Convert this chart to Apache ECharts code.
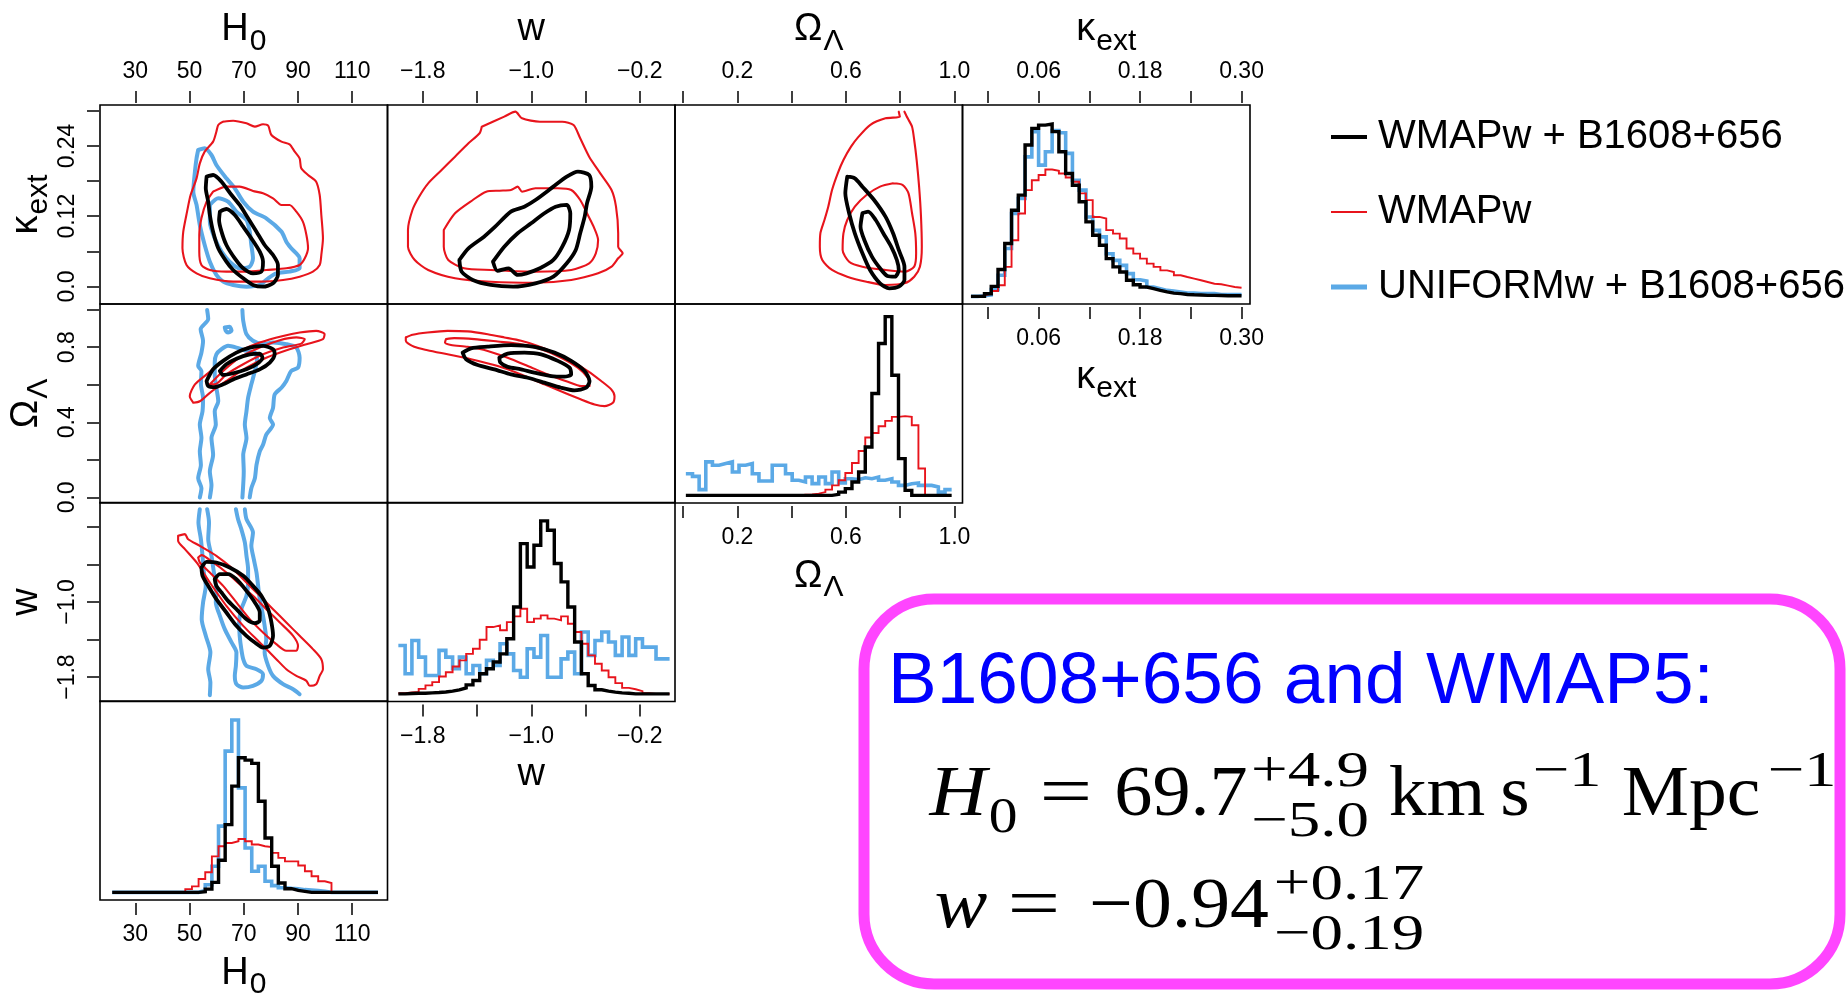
<!DOCTYPE html>
<html><head><meta charset="utf-8">
<script src="https://cdn.jsdelivr.net/npm/echarts@6/dist/echarts.min.js"></script>
<style>html,body{margin:0;padding:0;background:#fff}#c{width:1848px;height:996px}</style>
</head><body><div id="c"></div>
<script>
// ---------------- DATA ----------------
const seriesNames = ['WMAPw + B1608+656', 'WMAPw', 'UNIFORMw + B1608+656'];

// tick values and labelled ticks
const h0Ticks = [30, 50, 70, 90, 110];
const h0Labels = [30, 50, 70, 90, 110];
const wTicks = [-1.8, -1.4, -1.0, -0.6, -0.2];
const wLabels = [-1.8, -1.0, -0.2];
const wLeftLabels = [-1.8, -1.0];
const omlTicks = [0, 0.2, 0.4, 0.6, 0.8, 1.0];
const omlLabels = [0.2, 0.6, 1.0];
const omlLeftLabels = [0, 0.4, 0.8];
const kextTicks = [0, 0.06, 0.12, 0.18, 0.24, 0.30];
const kextLabels = [0.06, 0.18, 0.30];
const kextLeftLabels = [0, 0.12, 0.24];

// ---- contours (H0, kext) ----
const hkRedOuter = [[62.4,0.2815],[66.1,0.2832],[71.0,0.2787],[74.1,0.2730],[77.1,0.2770],[79.0,0.2747],[80.2,0.2587],[83.9,0.2474],[86.9,0.2428],[88.8,0.2303],[90.6,0.2189],[91.2,0.2018],[93.7,0.1904],[96.7,0.1790],[98.0,0.1562],[98.6,0.1221],[99.2,0.0822],[98.6,0.0537],[98.0,0.0367],[95.5,0.0253],[90.6,0.0167],[84.5,0.0110],[75.9,0.0082],[66.1,0.0082],[57.5,0.0139],[52.6,0.0224],[48.9,0.0367],[47.4,0.0651],[47.7,0.0936],[49.1,0.1278],[50.4,0.1562],[52.6,0.1847],[53.8,0.2103],[55.6,0.2303],[58.7,0.2474],[59.9,0.2644],[60.6,0.2758]];
const hkRedInner = [[58.7,0.1619],[63.6,0.1705],[68.5,0.1705],[73.4,0.1631],[77.1,0.1591],[80.8,0.1505],[83.9,0.1392],[86.9,0.1392],[89.4,0.1278],[91.8,0.1107],[93.1,0.0879],[93.7,0.0651],[92.5,0.0480],[90.6,0.0367],[85.7,0.0310],[78.3,0.0281],[71.0,0.0253],[63.6,0.0253],[57.5,0.0281],[54.4,0.0367],[53.6,0.0594],[53.6,0.0879],[54.4,0.1164],[56.3,0.1448]];
const hkBlueOuter = [[53.2,0.2331],[55.6,0.2360],[58.1,0.2246],[59.9,0.2075],[63.6,0.1847],[66.7,0.1676],[69.8,0.1448],[73.4,0.1278],[78.3,0.1164],[83.9,0.0936],[85.7,0.0765],[87.5,0.0651],[90.6,0.0480],[90.6,0.0310],[86.9,0.0253],[82.0,0.0224],[79.0,0.0139],[75.9,0.0025],[71.0,-0.0004],[66.1,0.0025],[62.4,0.0082],[59.9,0.0196],[57.5,0.0423],[55.6,0.0708],[53.8,0.1050],[52.6,0.1392],[51.4,0.1619],[52.0,0.1961],[52.6,0.2189]];
const hkBlueInner = [[57.5,0.1392],[60.6,0.1505],[64.2,0.1448],[67.3,0.1278],[71.0,0.1135],[72.2,0.0936],[72.8,0.0708],[73.4,0.0480],[72.2,0.0338],[68.5,0.0310],[64.8,0.0423],[61.8,0.0594],[59.3,0.0822],[57.5,0.1107]];
const hkBlackOuter = [[56.3,0.1876],[58.7,0.1904],[61.8,0.1790],[65.5,0.1562],[68.5,0.1392],[71.6,0.1164],[74.7,0.0936],[77.7,0.0708],[80.8,0.0537],[82.6,0.0367],[82.6,0.0196],[80.8,0.0053],[77.1,-0.0004],[73.4,0.0025],[69.8,0.0139],[66.1,0.0281],[63.6,0.0423],[60.6,0.0651],[58.7,0.0936],[57.5,0.1221],[56.9,0.1448],[56.0,0.1676]];
const hkBlackInner = [[61.2,0.1278],[63.6,0.1323],[66.7,0.1221],[69.8,0.1021],[72.8,0.0822],[75.9,0.0594],[77.1,0.0423],[76.5,0.0253],[73.4,0.0224],[69.8,0.0310],[66.7,0.0480],[63.6,0.0708],[61.8,0.0936],[60.9,0.1135]];

// ---- contours (w, kext) ----
const wkRedOuter = [[-1.365,0.2729],[-1.199,0.2901],[-1.117,0.2986],[-1.068,0.2872],[-0.936,0.2815],[-0.771,0.2815],[-0.688,0.2758],[-0.639,0.2531],[-0.573,0.2217],[-0.491,0.1933],[-0.408,0.1648],[-0.375,0.1363],[-0.359,0.0908],[-0.359,0.0679],[-0.326,0.0566],[-0.359,0.0481],[-0.408,0.0338],[-0.507,0.0224],[-0.705,0.0110],[-0.969,0.0064],[-1.298,0.0081],[-1.562,0.0139],[-1.760,0.0281],[-1.859,0.0452],[-1.909,0.0679],[-1.909,0.0964],[-1.876,0.1306],[-1.827,0.1533],[-1.760,0.1762],[-1.661,0.1989],[-1.562,0.2217],[-1.463,0.2446],[-1.381,0.2617]];
const wkRedInner = [[-1.645,0.0964],[-1.562,0.1250],[-1.431,0.1477],[-1.332,0.1619],[-1.233,0.1636],[-1.150,0.1648],[-1.100,0.1705],[-1.068,0.1619],[-0.969,0.1677],[-0.804,0.1677],[-0.705,0.1648],[-0.639,0.1477],[-0.589,0.1250],[-0.540,0.1021],[-0.507,0.0794],[-0.524,0.0566],[-0.573,0.0396],[-0.705,0.0281],[-0.969,0.0252],[-1.298,0.0281],[-1.496,0.0310],[-1.612,0.0452],[-1.645,0.0679]];
const wkBlackOuter = [[-1.530,0.0452],[-1.463,0.0651],[-1.348,0.0850],[-1.266,0.1021],[-1.150,0.1278],[-1.051,0.1363],[-0.969,0.1477],[-0.837,0.1705],[-0.738,0.1875],[-0.656,0.1961],[-0.573,0.1904],[-0.557,0.1705],[-0.589,0.1420],[-0.606,0.1192],[-0.639,0.0908],[-0.672,0.0623],[-0.738,0.0396],[-0.837,0.0167],[-0.969,0.0053],[-1.134,-0.0004],[-1.298,0.0025],[-1.431,0.0110],[-1.513,0.0252]];
const wkBlackInner = [[-1.282,0.0423],[-1.199,0.0679],[-1.100,0.0908],[-1.001,0.1079],[-0.903,0.1250],[-0.820,0.1363],[-0.738,0.1392],[-0.712,0.1250],[-0.721,0.0964],[-0.771,0.0679],[-0.837,0.0452],[-0.936,0.0310],[-1.035,0.0224],[-1.100,0.0196],[-1.167,0.0310],[-1.249,0.0267]];

// ---- contours (OmegaL, kext) ----
const okRedOuter = [[0.795,0.2986],[0.799,0.2901],[0.746,0.2872],[0.689,0.2758],[0.647,0.2559],[0.619,0.2388],[0.591,0.2160],[0.570,0.1933],[0.549,0.1648],[0.535,0.1363],[0.521,0.1135],[0.506,0.0908],[0.504,0.0679],[0.513,0.0452],[0.549,0.0281],[0.605,0.0167],[0.676,0.0081],[0.746,0.0025],[0.816,0.0053],[0.852,0.0167],[0.873,0.0338],[0.880,0.0679],[0.877,0.1192],[0.870,0.1705],[0.861,0.2160],[0.852,0.2502],[0.844,0.2729],[0.828,0.2872],[0.816,0.2986]];
const okRedInner = [[0.774,0.1762],[0.810,0.1733],[0.831,0.1591],[0.844,0.1250],[0.856,0.0908],[0.859,0.0566],[0.852,0.0338],[0.816,0.0252],[0.746,0.0281],[0.661,0.0338],[0.612,0.0423],[0.588,0.0623],[0.591,0.0908],[0.605,0.1135],[0.633,0.1363],[0.676,0.1562],[0.726,0.1705]];
const okBlackOuter = [[0.605,0.1875],[0.633,0.1847],[0.661,0.1705],[0.704,0.1477],[0.746,0.1192],[0.774,0.0908],[0.795,0.0623],[0.816,0.0338],[0.816,0.0110],[0.795,-0.0004],[0.760,-0.0032],[0.726,0.0053],[0.689,0.0281],[0.661,0.0566],[0.633,0.0908],[0.612,0.1250],[0.598,0.1591]];
const okBlackInner = [[0.661,0.1250],[0.682,0.1278],[0.710,0.1135],[0.738,0.0908],[0.767,0.0679],[0.788,0.0452],[0.795,0.0281],[0.781,0.0167],[0.753,0.0178],[0.726,0.0310],[0.696,0.0509],[0.668,0.0794],[0.654,0.1021]];

// ---- contours (H0, OmegaL) ----
const hoBlackOuter = [[56.3,0.620],[58.7,0.682],[62.4,0.727],[67.3,0.771],[72.2,0.798],[77.1,0.807],[80.8,0.789],[81.4,0.762],[79.6,0.718],[75.9,0.682],[71.0,0.655],[66.1,0.628],[62.4,0.602],[59.3,0.587],[56.9,0.593]];
const hoBlackInner = [[61.2,0.673],[63.6,0.709],[67.3,0.739],[72.2,0.762],[75.9,0.766],[76.9,0.744],[74.7,0.709],[71.0,0.682],[66.1,0.661],[62.4,0.652]];
const hoRedOuter = [[51.4,0.504],[50.1,0.539],[52.0,0.602],[56.3,0.655],[62.4,0.727],[68.5,0.780],[75.9,0.825],[84.5,0.860],[90.6,0.878],[96.7,0.887],[99.8,0.869],[99.2,0.843],[93.1,0.816],[86.9,0.789],[78.3,0.744],[71.0,0.691],[63.6,0.620],[57.5,0.557],[53.8,0.512]];
const hoRedInner = [[57.5,0.602],[62.4,0.673],[68.5,0.744],[75.9,0.798],[83.3,0.837],[89.4,0.852],[92.5,0.843],[91.2,0.819],[84.5,0.798],[77.1,0.762],[69.8,0.709],[63.6,0.655],[59.3,0.602]];
const hoBlueOuterLeft = [[53.8,-0.001],[54.4,0.049],[53.2,0.102],[54.2,0.173],[53.8,0.245],[54.4,0.316],[53.8,0.388],[54.8,0.459],[55.0,0.530],[54.2,0.602],[54.4,0.673],[53.2,0.700],[54.4,0.771],[55.0,0.834],[54.1,0.896],[56.9,0.950],[56.5,0.998]];
const hoBlueOuterRight = [[69.5,0.998],[69.8,0.941],[71.0,0.869],[73.4,0.834],[77.1,0.816],[80.8,0.825],[85.7,0.816],[89.4,0.798],[90.6,0.744],[90.0,0.691],[87.5,0.673],[85.7,0.620],[83.9,0.584],[81.4,0.548],[80.8,0.477],[79.6,0.423],[80.8,0.388],[78.3,0.334],[77.1,0.280],[75.9,0.245],[74.7,0.173],[74.1,0.102],[72.8,0.049],[72.2,-0.001]];
const hoBlueInner = [[57.5,-0.001],[58.1,0.066],[57.5,0.138],[58.7,0.227],[58.1,0.316],[59.7,0.388],[59.3,0.459],[60.6,0.512],[59.9,0.584],[59.3,0.655],[59.3,0.718],[59.9,0.762],[61.8,0.789],[64.2,0.807],[67.3,0.798],[71.0,0.780],[74.1,0.771],[74.9,0.736],[74.1,0.673],[72.8,0.602],[71.6,0.530],[71.0,0.459],[70.4,0.388],[71.0,0.316],[69.8,0.227],[70.0,0.138],[69.5,-0.001]];
const hoBlueIsland = [[63.0,0.905],[64.8,0.909],[65.5,0.887],[64.2,0.878],[63.4,0.887]];

// ---- contours (H0, w) ----
const hwRedOuter = [[45.8,-0.295],[48.3,-0.277],[49.5,-0.331],[53.8,-0.402],[59.9,-0.508],[66.1,-0.650],[71.0,-0.792],[75.9,-0.934],[80.8,-1.076],[85.7,-1.218],[90.6,-1.360],[95.5,-1.502],[98.6,-1.609],[99.2,-1.716],[98.0,-1.787],[96.7,-1.875],[94.3,-1.893],[93.1,-1.840],[89.4,-1.787],[85.7,-1.716],[82.0,-1.609],[75.9,-1.431],[69.8,-1.254],[63.6,-1.041],[57.5,-0.792],[52.6,-0.579],[48.3,-0.437],[45.8,-0.348]];
const hwRedInner = [[53.2,-0.526],[54.4,-0.501],[58.7,-0.579],[63.6,-0.686],[68.5,-0.810],[73.4,-0.934],[78.3,-1.076],[83.3,-1.218],[88.2,-1.360],[90.0,-1.467],[89.4,-1.520],[85.7,-1.520],[82.0,-1.449],[77.1,-1.325],[72.2,-1.183],[67.3,-1.005],[62.4,-0.828],[57.5,-0.686],[53.8,-0.579]];
const hwBlackOuter = [[54.4,-0.632],[56.3,-0.572],[59.9,-0.579],[64.8,-0.632],[69.8,-0.721],[73.4,-0.828],[76.5,-0.934],[79.0,-1.076],[80.2,-1.218],[80.8,-1.360],[79.6,-1.467],[77.1,-1.485],[74.1,-1.431],[71.0,-1.360],[67.3,-1.254],[63.6,-1.112],[59.9,-0.970],[56.9,-0.828],[54.8,-0.721]];
const hwBlackInner = [[59.3,-0.757],[61.2,-0.703],[64.2,-0.703],[67.3,-0.757],[71.0,-0.881],[74.1,-1.005],[75.9,-1.112],[75.9,-1.201],[74.1,-1.225],[71.0,-1.183],[67.3,-1.076],[64.2,-0.988],[61.8,-0.899],[59.9,-0.828]];
const hwBlueOuterLeft = [[53.8,-0.011],[53.3,-0.153],[54.2,-0.331],[54.8,-0.508],[55.3,-0.686],[56.0,-0.828],[55.0,-1.005],[54.5,-1.183],[56.0,-1.360],[57.7,-1.538],[56.9,-1.716],[57.7,-1.858],[57.5,-1.993]];
const hwBlueOuterRight = [[70.4,-0.011],[71.0,-0.118],[73.4,-0.260],[72.8,-0.402],[73.7,-0.544],[74.7,-0.686],[75.3,-0.828],[75.9,-0.970],[76.9,-1.112],[77.7,-1.254],[78.3,-1.396],[77.7,-1.538],[79.0,-1.680],[80.8,-1.787],[84.5,-1.875],[88.2,-1.929],[90.6,-1.982]];
const hwBlueInner = [[56.5,-0.011],[57.2,-0.153],[56.9,-0.331],[58.1,-0.508],[59.0,-0.686],[59.9,-0.863],[59.7,-1.005],[61.2,-1.147],[63.0,-1.289],[65.5,-1.431],[67.3,-1.538],[67.1,-1.680],[66.7,-1.787],[67.3,-1.875],[69.8,-1.911],[73.4,-1.893],[76.5,-1.840],[77.1,-1.769],[74.7,-1.716],[71.0,-1.680],[69.8,-1.609],[69.1,-1.502],[68.5,-1.360],[68.3,-1.218],[69.1,-1.076],[71.0,-0.934],[71.6,-0.792],[71.6,-0.650],[71.0,-0.508],[70.4,-0.366],[69.1,-0.224],[67.9,-0.118],[67.1,-0.011]];

// ---- contours (w, OmegaL) ----
const woRedOuter = [[-1.925,0.852],[-1.875,0.866],[-1.765,0.878],[-1.617,0.887],[-1.469,0.884],[-1.321,0.869],[-1.198,0.852],[-1.075,0.834],[-0.952,0.807],[-0.829,0.771],[-0.706,0.727],[-0.583,0.673],[-0.484,0.620],[-0.410,0.575],[-0.386,0.539],[-0.398,0.504],[-0.460,0.486],[-0.533,0.495],[-0.632,0.521],[-0.755,0.557],[-0.903,0.602],[-1.075,0.655],[-1.247,0.700],[-1.444,0.736],[-1.617,0.762],[-1.765,0.784],[-1.863,0.802],[-1.925,0.834]];
const woRedInner = [[-1.629,0.843],[-1.568,0.848],[-1.420,0.843],[-1.247,0.830],[-1.075,0.816],[-0.927,0.789],[-0.780,0.744],[-0.657,0.691],[-0.583,0.637],[-0.570,0.593],[-0.632,0.593],[-0.730,0.616],[-0.878,0.655],[-1.026,0.700],[-1.174,0.744],[-1.321,0.780],[-1.469,0.802],[-1.592,0.812],[-1.636,0.825]];
const woBlackOuter = [[-1.506,0.771],[-1.444,0.794],[-1.321,0.803],[-1.149,0.811],[-0.977,0.802],[-0.829,0.771],[-0.706,0.727],[-0.607,0.673],[-0.570,0.620],[-0.595,0.584],[-0.681,0.570],[-0.780,0.584],[-0.903,0.611],[-1.026,0.637],[-1.149,0.655],[-1.272,0.682],[-1.395,0.705],[-1.481,0.736]];
const woBlackInner = [[-1.235,0.744],[-1.174,0.766],[-1.050,0.771],[-0.927,0.762],[-0.804,0.727],[-0.718,0.691],[-0.706,0.655],[-0.755,0.643],[-0.853,0.646],[-0.977,0.664],[-1.075,0.682],[-1.174,0.695],[-1.228,0.718]];

// ---- marginal histograms (relative density per bin) ----
const kextBinStart = -0.02, kextBinWidth = 0.008;
const kextHistBlack = [0,0,.014,.052,.140,.276,.450,.529,.791,.878,.895,.901,.861,.756,.642,.581,.494,.389,.319,.267,.197,.154,.127,.084,.061,.049,.040,.031,.023,.017,.014,.010,.008,.007,.005,.005,.004,.003,.003,.003];
const kextHistRed = [0,.005,.014,.028,.058,.154,.293,.433,.555,.607,.634,.663,.656,.642,.621,.599,.538,.503,.415,.407,.346,.328,.302,.250,.223,.197,.171,.154,.136,.127,.110,.101,.093,.084,.075,.066,.063,.056,.049,.045];
const kextHistBlue = [0,.003,.007,.035,.110,.250,.433,.511,.729,.860,.686,.756,.866,.855,.747,.607,.555,.415,.345,.311,.223,.188,.162,.119,.087,.080,.049,.040,.031,.028,.023,.017,.017,.014,.014,.014,.010,.010,.010,.010];

const omlBinStart = 0.01, omlBinWidth = 0.0245;
const omlHistBlack = [0,0,0,0,0,0,0,0,0,0,0,0,0,0,0,0,0,0,0,0,0,0,.005,.017,.035,.070,.122,.253,.532,.794,.934,.628,.192,.026,0,0,0,0,0,0];
const omlHistRed = [null,null,null,null,null,null,null,null,null,null,null,null,null,null,null,null,null,.003,.005,.009,.017,.030,.052,.079,.117,.169,.232,.302,.326,.361,.389,.410,.414,.410,.366,.140,null,null,null,null];
const omlHistBlue = [.113,.099,.030,.175,.157,.166,.175,.122,.157,.166,.113,.075,.075,.157,.157,.113,.079,.070,.096,.061,.096,.061,.122,.065,.087,.082,.092,.087,.096,.079,.087,.070,.052,.061,.065,.052,.052,.044,.017,.030];

const wBinStart = -1.98, wBinWidth = 0.05;
const wHistBlack = [0,.002,.003,.003,.005,.007,.010,.014,.021,.031,.047,.070,.105,.131,.166,.209,.288,.454,.785,.663,.777,.904,.855,.681,.585,.454,.271,.105,.044,.021,.014,.009,.005,.003,0,0,0,0,0,0];
const wHistRed = [.003,.007,.010,.026,.044,.061,.091,.113,.143,.175,.209,.236,.283,.349,.358,.332,.375,.405,.445,.375,.393,.410,.393,.384,.405,.366,.323,.262,.201,.157,.122,.087,.056,.031,.024,.014,.003,0,0,0];
const wHistBlue = [.253,.105,.279,.192,.096,.096,.227,.192,.131,.192,.105,.148,.105,.175,.148,.262,.209,.122,.087,.236,.192,.305,.087,.087,.183,.218,.105,.323,.201,.279,.323,.271,.201,.297,.201,.288,.244,.244,.183,.183];

const h0BinStart = 21.5, h0BinWidth = 2.45;
const h0HistBlack = [0,0,0,0,0,0,0,0,0,0,0,0,0,.003,.017,.052,.168,.354,.555,.703,.691,.674,.476,.284,.136,.049,.019,.010,.005,0,0,0,0,0,0,0,0,0,0,0];
const h0HistRed = [null,null,null,null,null,null,null,null,null,null,null,.017,.031,.070,.105,.188,.241,.258,.267,.279,.267,.250,.241,.237,.206,.180,.162,.162,.140,.110,.084,.058,.049,null,null,null,null,null,null,null];
const h0HistBlue = [0,0,0,0,0,0,0,0,0,0,0,0,0,.010,.040,.136,.346,.738,.901,.546,.232,.110,.136,.058,.035,.024,.021,.019,.014,.012,.009,.005,0,0,0,0,0,0,0,0];

// ---------------- CHART ----------------
const FONT = '"Liberation Sans", Arial, Helvetica, sans-serif';
const SERIF = '"Liberation Serif", "Times New Roman", serif';
const COLORS = ['#000000', '#e8141c', '#5ba9e6'];
const WIDTHS = [3.8, 2.1, 4.0];

const minusFmt = (d) => (v) => (v < -1e-9 ? '\u2212' : '') + Math.abs(v).toFixed(d);
const VARS = {
  H0:   {range: [17, 123], ticks: h0Ticks, labels: h0Labels, left: null, fmt: minusFmt(0)},
  w:    {range: [-2.06, 0.06], ticks: wTicks, labels: wLabels, left: wLeftLabels, fmt: minusFmt(1)},
  OmL:  {range: [-0.03, 1.03], ticks: omlTicks, labels: omlLabels, left: omlLeftLabels, fmt: minusFmt(1)},
  kext: {range: [-0.03, 0.31], ticks: kextTicks, labels: kextLabels, left: kextLeftLabels, fmt: (v) => Math.abs(v) < 1e-9 ? '0.0' : v.toFixed(2)}
};
const HIST_RANGE = [-0.04, 1.0];
const colVars = ['H0', 'w', 'OmL', 'kext'];
const rowVars = ['kext', 'OmL', 'w', 'H0'];
const colX = [100, 387.5, 675, 962.5];
const rowY = [105, 304, 502.5, 701];
const PW = 287.5, PH = 199;

const tickLabelStyle = {color: '#000', fontFamily: FONT, fontSize: 23, lineHeight: 23};
const tickLine = {color: '#000', width: 1.5};

const grids = [], xAxes = [], yAxes = [], series = [];
const panels = {};

function makeX(g, v, pos, show) {
  const V = VARS[v];
  return {type: 'value', gridIndex: g, min: V.range[0], max: V.range[1], position: pos,
    offset: pos === 'top' ? 2 : 3, show: show,
    axisLine: {show: false, onZero: false}, splitLine: {show: false}, axisPointer: {show: false},
    axisTick: {show: true, inside: false, length: 12, customValues: V.ticks, lineStyle: tickLine},
    axisLabel: Object.assign({show: true, customValues: V.labels, formatter: V.fmt,
      margin: pos === 'top' ? 19.5 : 20.5}, tickLabelStyle)};
}
function makeY(g, v, show) {
  const V = VARS[v];
  return {type: 'value', gridIndex: g, min: V.range[0], max: V.range[1], position: 'left',
    offset: 1, show: show,
    axisLine: {show: false, onZero: false}, splitLine: {show: false}, axisPointer: {show: false},
    axisTick: {show: true, inside: false, length: 12, customValues: V.ticks, lineStyle: tickLine},
    axisLabel: Object.assign({show: true, rotate: 90, customValues: V.left || [], formatter: V.fmt,
      margin: 20}, tickLabelStyle)};
}
function makeHistY(g) {
  return {type: 'value', gridIndex: g, min: HIST_RANGE[0], max: HIST_RANGE[1], show: false,
    axisLine: {onZero: false}, splitLine: {show: false}};
}

for (let r = 0; r < 4; r++) {
  for (let c = 0; c <= 3 - r; c++) {
    const g = grids.length;
    grids.push({left: colX[c], top: rowY[r], width: PW, height: PH, show: true,
      borderColor: '#000', borderWidth: 1.6, backgroundColor: 'transparent', containLabel: false});
    const diag = (c === 3 - r);
    const xv = colVars[c];
    const xi = xAxes.length;
    if (r === 0) {
      xAxes.push(makeX(g, xv, 'top', true));
      if (diag) xAxes.push(makeX(g, xv, 'bottom', true));
    } else {
      xAxes.push(makeX(g, xv, 'bottom', diag));
    }
    const yi = yAxes.length;
    if (diag) yAxes.push(makeHistY(g));
    else yAxes.push(makeY(g, rowVars[r], c === 0));
    panels[r + '_' + c] = {x: xi, y: yi};
  }
}

function contour(key, pts, grp, closed) {
  const p = panels[key];
  const data = closed ? pts.concat([pts[0]]) : pts.slice();
  series.push({type: 'line', name: seriesNames[grp], xAxisIndex: p.x, yAxisIndex: p.y, data: data,
    symbol: 'none', showSymbol: false, smooth: 0.25, silent: true, clip: true,
    lineStyle: {color: COLORS[grp], width: WIDTHS[grp], cap: 'round', join: 'round'},
    itemStyle: {color: COLORS[grp]}});
}
function hist(key, start, width, vals, grp) {
  const p = panels[key];
  let first = -1, last = -1;
  vals.forEach((v, i) => { if (v !== null) { if (first < 0) first = i; last = i; } });
  const pts = [];
  const partial = first > 0 || last < vals.length - 1;
  if (partial) pts.push([start + width * first, 0]);
  for (let i = first; i <= last; i++) {
    pts.push([start + width * i, vals[i]]);
    pts.push([start + width * (i + 1), vals[i]]);
  }
  if (partial) pts.push([start + width * (last + 1), 0]);
  series.push({type: 'line', name: seriesNames[grp], xAxisIndex: p.x, yAxisIndex: p.y, data: pts,
    symbol: 'none', showSymbol: false, silent: true, clip: true,
    lineStyle: {color: COLORS[grp], width: WIDTHS[grp] * 0.9, cap: 'butt', join: 'miter'},
    itemStyle: {color: COLORS[grp]}});
}

// (H0, kext)
contour('0_0', hkBlueOuter, 2, true); contour('0_0', hkBlueInner, 2, true);
contour('0_0', hkRedOuter, 1, true); contour('0_0', hkRedInner, 1, true);
contour('0_0', hkBlackOuter, 0, true); contour('0_0', hkBlackInner, 0, true);
// (w, kext)
contour('0_1', wkRedOuter, 1, true); contour('0_1', wkRedInner, 1, true);
contour('0_1', wkBlackOuter, 0, true); contour('0_1', wkBlackInner, 0, true);
// (OmL, kext)
contour('0_2', okRedOuter, 1, false); contour('0_2', okRedInner, 1, true);
contour('0_2', okBlackOuter, 0, true); contour('0_2', okBlackInner, 0, true);
// kext histogram
hist('0_3', kextBinStart, kextBinWidth, kextHistBlue, 2);
hist('0_3', kextBinStart, kextBinWidth, kextHistRed, 1);
hist('0_3', kextBinStart, kextBinWidth, kextHistBlack, 0);
// (H0, OmL)
contour('1_0', hoBlueOuterLeft, 2, false); contour('1_0', hoBlueOuterRight, 2, false);
contour('1_0', hoBlueInner, 2, false); contour('1_0', hoBlueIsland, 2, true);
contour('1_0', hoRedOuter, 1, true); contour('1_0', hoRedInner, 1, true);
contour('1_0', hoBlackOuter, 0, true); contour('1_0', hoBlackInner, 0, true);
// (w, OmL)
contour('1_1', woRedOuter, 1, true); contour('1_1', woRedInner, 1, true);
contour('1_1', woBlackOuter, 0, true); contour('1_1', woBlackInner, 0, true);
// OmL histogram
hist('1_2', omlBinStart, omlBinWidth, omlHistBlue, 2);
hist('1_2', omlBinStart, omlBinWidth, omlHistRed, 1);
hist('1_2', omlBinStart, omlBinWidth, omlHistBlack, 0);
// (H0, w)
contour('2_0', hwBlueOuterLeft, 2, false); contour('2_0', hwBlueOuterRight, 2, false);
contour('2_0', hwBlueInner, 2, false);
contour('2_0', hwRedOuter, 1, true); contour('2_0', hwRedInner, 1, true);
contour('2_0', hwBlackOuter, 0, true); contour('2_0', hwBlackInner, 0, true);
// w histogram
hist('2_1', wBinStart, wBinWidth, wHistBlue, 2);
hist('2_1', wBinStart, wBinWidth, wHistRed, 1);
hist('2_1', wBinStart, wBinWidth, wHistBlack, 0);
// H0 histogram
hist('3_0', h0BinStart, h0BinWidth, h0HistBlue, 2);
hist('3_0', h0BinStart, h0BinWidth, h0HistRed, 1);
hist('3_0', h0BinStart, h0BinWidth, h0HistBlack, 0);

// ---------------- TEXT (graphic) ----------------
const mctx = document.createElement('canvas').getContext('2d');
function tw(text, font) { mctx.font = font; return mctx.measureText(text).width; }
function T(text, x, base, size, family, o) {
  o = o || {};
  const k = family === SERIF ? 0.3375 : 0.3465;
  const font = (o.italic ? 'italic ' : '') + size + 'px ' + family;
  return {type: 'text', silent: true, z: 100, x: x, y: base - k * size, scaleX: o.sx || 1,
    style: {text: text, x: 0, y: 0, font: font, fill: o.fill || '#000',
      align: o.align || 'left', verticalAlign: 'middle'}};
}
const VAR_TEXT = {H0: ['H', '0'], w: ['w', ''], OmL: ['\u03A9', '\u039B'], kext: ['\u03BA', 'ext']};
const MAIN_FS = 38, SUB_FS = 30, SUB_DROP = 9;
function varLabel(v, cx, base, rotated) {
  const [m, s] = VAR_TEXT[v];
  const wm = tw(m, MAIN_FS + 'px ' + FONT);
  const ws = s ? tw(s, SUB_FS + 'px ' + FONT) + 1 : 0;
  const x0 = -(wm + ws) / 2;
  const children = [T(m, x0, 0, MAIN_FS, FONT)];
  if (s) children.push(T(s, x0 + wm + 1, SUB_DROP, SUB_FS, FONT));
  return {type: 'group', x: cx, y: base, rotation: rotated ? Math.PI / 2 : 0, children: children, z: 100};
}
const graphics = [];
colVars.forEach((v, c) => graphics.push(varLabel(v, colX[c] + PW / 2, 43, false)));
rowVars.slice(0, 3).forEach((v, r) => graphics.push(varLabel(v, 40, rowY[r] + PH / 2, true)));
for (let r = 0; r < 4; r++) {
  const c = 3 - r;
  graphics.push(varLabel(colVars[c], colX[c] + PW / 2, rowY[r] + PH + 86.5, false));
}

// result box
graphics.push({type: 'rect', silent: true, z: 90,
  shape: {x: 864, y: 599, width: 976, height: 385, r: 70},
  style: {fill: 'none', stroke: '#ff45ff', lineWidth: 11}});
graphics.push(T('B1608+656 and WMAP5:', 888, 708, 73, FONT, {fill: '#0000ff'}));
const MF = 72, SF = 50;
[
  ['H', 958, 820, MF, true, 1.1], ['0', 1003, 836, SF, false, 1.15], ['=', 1066, 820, MF, false, 1.3],
  ['69.7', 1181, 820, MF, false, 1.06],
  ['+4.9', 1310, 790, SF, false, 1.3], ['\u22125.0', 1310, 840, SF, false, 1.3],
  ['km', 1437, 820, MF, false, 1.05], ['s', 1515, 820, MF, false, 1.05],
  ['\u22121', 1567, 790, SF, false, 1.3], ['Mpc', 1691, 820, MF, false, 1.05], ['\u22121', 1802, 790, SF, false, 1.3],
  ['w', 961, 932, MF, true, 1.1], ['=', 1034, 932, MF, false, 1.3], ['\u22120.94', 1179, 932, MF, false, 1.08],
  ['+0.17', 1349, 903, SF, false, 1.3], ['\u22120.19', 1349, 953, SF, false, 1.3]
].forEach(([t, x, b, fs, it, sx]) => graphics.push(T(t, x, b, fs, SERIF, {align: 'center', italic: !!it, sx: sx})));

const chart = echarts.init(document.getElementById('c'), null, {renderer: 'canvas'});
chart.setOption({
  animation: false,
  backgroundColor: '#ffffff',
  grid: grids, xAxis: xAxes, yAxis: yAxes, series: series,
  legend: {show: true, orient: 'vertical', left: 1326, top: 112, itemWidth: 36, itemHeight: 14,
    itemGap: 35, selectedMode: false, symbolKeepAspect: true,
    data: [
      {name: seriesNames[0], icon: 'path://M0,0H36V4H0Z'},
      {name: seriesNames[1], icon: 'path://M0,0H36V2H0Z'},
      {name: seriesNames[2], icon: 'path://M0,0H36V5H0Z'}
    ],
    textStyle: {fontFamily: FONT, fontSize: 40, lineHeight: 40, color: '#000', padding: [0, 0, 0, 6]}},
  graphic: graphics
});
</script></body></html>
